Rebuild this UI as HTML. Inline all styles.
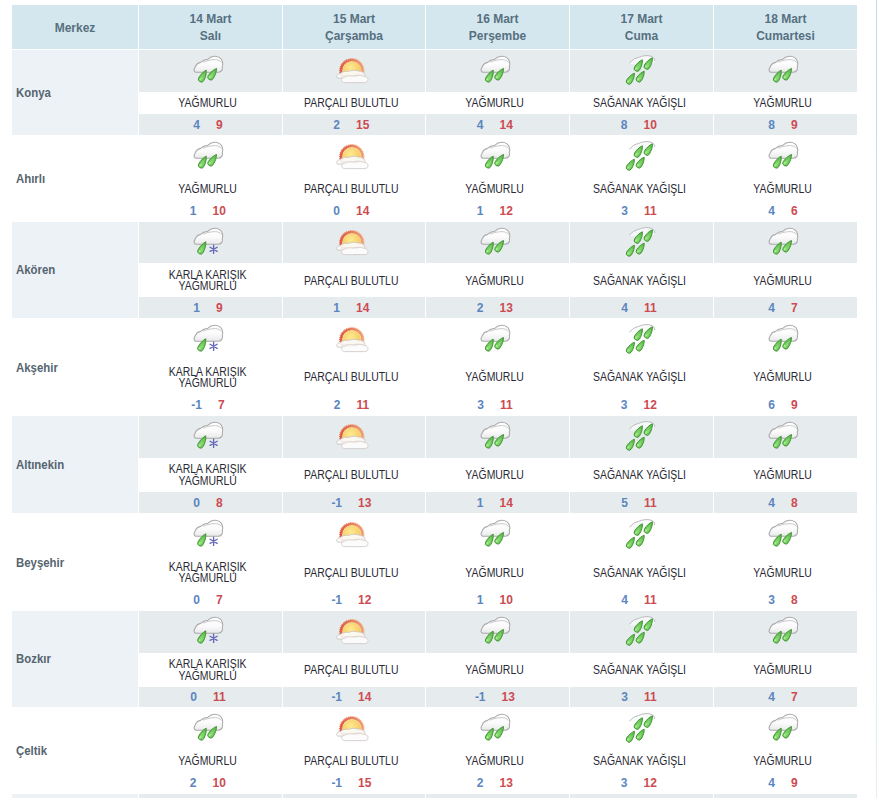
<!DOCTYPE html><html><head><meta charset="utf-8"><style>
html,body{margin:0;padding:0;background:#fff;width:877px;height:798px;overflow:hidden;position:relative;font-family:"Liberation Sans",sans-serif}
.a{position:absolute}
.hd{position:absolute;top:5px;height:44px;background:#d4e7ef;color:#577080;font-weight:bold;font-size:12px;line-height:17px;text-align:center;display:flex;flex-direction:column;justify-content:center;padding-top:2px;box-sizing:border-box}
.city{position:absolute;left:12px;width:126px;color:#56646f;font-weight:bold;font-size:12px;display:flex;align-items:center;padding-left:4px;padding-top:1px;box-sizing:border-box}
.city span{display:inline-block;transform:scaleX(0.95);transform-origin:0 50%}
.ds{position:absolute;color:#2a2a35;font-size:12px;line-height:11.4px;text-align:center;display:flex;align-items:center;justify-content:center}
.ds span{display:inline-block;transform:scaleX(0.87);white-space:nowrap}
.tp{position:absolute;font-weight:bold;font-size:12px;display:flex;align-items:center;justify-content:center}
.mn{color:#5a86bf}.mx{color:#cc4b52;margin-left:16px}
svg.ic{position:absolute;width:40px;height:40px}

</style></head><body>
<svg width="0" height="0" style="position:absolute"><defs><linearGradient id="cg" x1="0" y1="0" x2="0" y2="1"><stop offset="0" stop-color="#ffffff"/><stop offset="0.55" stop-color="#fbfbfb"/><stop offset="1" stop-color="#e9e9ec"/></linearGradient><radialGradient id="dg" cx="0.5" cy="0.7" r="0.7"><stop offset="0" stop-color="#92e07c"/><stop offset="1" stop-color="#4cb03a"/></radialGradient><radialGradient id="sg" cx="0.45" cy="0.35" r="0.7"><stop offset="0" stop-color="#fdeb90"/><stop offset="1" stop-color="#f5bf55"/></radialGradient><linearGradient id="rg" x1="0" y1="0" x2="1" y2="0"><stop offset="0" stop-color="#e05e44"/><stop offset="1" stop-color="#f0a070"/></linearGradient><clipPath id="sc"><rect x="0" y="0" width="40" height="27"/></clipPath></defs><symbol id="ir" viewBox="0 0 40 40"><g transform="matrix(0.955 0 0 1 0.15 0)"><path d="M5 22.2C3 22 2.4 19.6 3.8 17.8C4.8 15 7 13 9.4 12.6C11.6 10.6 14.6 9.4 17.6 9.2C19.6 7.2 22.4 6.2 25 6.3C28.4 6.4 31.4 8.2 32.6 11.2C33.4 13.2 33.2 15 32.6 16.4C33.6 18.6 32 22.2 28.6 22.2Z" fill="url(#cg)" stroke="#a9a9a9" stroke-width="1.1"/><path d="M12.4 12.2C16 10.6 21 9.6 25.4 9.6C28.4 9.8 30.6 10.8 31.8 12.6" fill="none" stroke="#c2c2c2" stroke-width="0.9"/></g><path transform="translate(10.3 29.2) rotate(28.6)" d="M0 -10.25C1.59 -8.20 2.90 -4.10 2.90 0A2.9 2.9 0 0 1 -2.90 0C-2.90 -4.10 -1.59 -8.20 0 -10.25Z" fill="url(#dg)" stroke="#3a8f2c" stroke-width="0.8"/><ellipse transform="translate(10.3 29.2) rotate(28.6)" cx="-0.9" cy="0.6" rx="0.9" ry="1.3" fill="#b8f0a0" opacity="0.8"/><path transform="translate(19.7 27.1) rotate(34.0)" d="M0 -10.37C1.59 -8.30 2.90 -4.15 2.90 0A2.9 2.9 0 0 1 -2.90 0C-2.90 -4.15 -1.59 -8.30 0 -10.37Z" fill="url(#dg)" stroke="#3a8f2c" stroke-width="0.8"/><ellipse transform="translate(19.7 27.1) rotate(34.0)" cx="-0.9" cy="0.6" rx="0.9" ry="1.3" fill="#b8f0a0" opacity="0.8"/></symbol><symbol id="ik" viewBox="0 0 40 40"><g transform="matrix(0.955 0 0 1 0.15 0)"><path d="M5 22.2C3 22 2.4 19.6 3.8 17.8C4.8 15 7 13 9.4 12.6C11.6 10.6 14.6 9.4 17.6 9.2C19.6 7.2 22.4 6.2 25 6.3C28.4 6.4 31.4 8.2 32.6 11.2C33.4 13.2 33.2 15 32.6 16.4C33.6 18.6 32 22.2 28.6 22.2Z" fill="url(#cg)" stroke="#a9a9a9" stroke-width="1.1"/><path d="M12.4 12.2C16 10.6 21 9.6 25.4 9.6C28.4 9.8 30.6 10.8 31.8 12.6" fill="none" stroke="#c2c2c2" stroke-width="0.9"/></g><path transform="translate(9.6 29.2) rotate(29.0)" d="M0 -10.74C1.59 -8.59 2.90 -4.30 2.90 0A2.9 2.9 0 0 1 -2.90 0C-2.90 -4.30 -1.59 -8.59 0 -10.74Z" fill="url(#dg)" stroke="#3a8f2c" stroke-width="0.8"/><ellipse transform="translate(9.6 29.2) rotate(29.0)" cx="-0.9" cy="0.6" rx="0.9" ry="1.3" fill="#b8f0a0" opacity="0.8"/><g stroke="#6468b8" stroke-width="1.35" stroke-linecap="round"><path d="M22.6 23.2V31.4M19.05 25.25L26.15 29.35M19.05 29.35L26.15 25.25"/></g></symbol><symbol id="is" viewBox="0 0 40 40"><path d="M7.6 13.2C9.6 10.2 13 8.2 16.6 7.4C20.4 5.6 25.4 5 29 6.2C31.4 7 32.8 8.8 32.8 11C32.4 12.6 31 13.6 29 13.8L9.4 14.2Z" fill="#f8f9fa" opacity="0.9"/><path d="M7.6 13.2C9.6 10.2 13 8.2 16.6 7.4C20.4 5.6 25.4 5 29 6.2C31.4 7 32.8 8.8 32.8 11" fill="none" stroke="#bcbcbc" stroke-width="1"/><path transform="translate(15.1 18.4) rotate(31.6)" d="M0 -10.10C1.59 -8.08 2.90 -4.04 2.90 0A2.9 2.9 0 0 1 -2.90 0C-2.90 -4.04 -1.59 -8.08 0 -10.10Z" fill="url(#dg)" stroke="#3a8f2c" stroke-width="0.8"/><ellipse transform="translate(15.1 18.4) rotate(31.6)" cx="-0.9" cy="0.6" rx="0.9" ry="1.3" fill="#b8f0a0" opacity="0.8"/><path transform="translate(25 16.4) rotate(32.1)" d="M0 -10.15C1.59 -8.12 2.90 -4.06 2.90 0A2.9 2.9 0 0 1 -2.90 0C-2.90 -4.06 -1.59 -8.12 0 -10.15Z" fill="url(#dg)" stroke="#3a8f2c" stroke-width="0.8"/><ellipse transform="translate(25 16.4) rotate(32.1)" cx="-0.9" cy="0.6" rx="0.9" ry="1.3" fill="#b8f0a0" opacity="0.8"/><path transform="translate(7.1 31.4) rotate(32.9)" d="M0 -9.76C1.54 -7.81 2.80 -3.91 2.80 0A2.8 2.8 0 0 1 -2.80 0C-2.80 -3.91 -1.54 -7.81 0 -9.76Z" fill="url(#dg)" stroke="#3a8f2c" stroke-width="0.8"/><ellipse transform="translate(7.1 31.4) rotate(32.9)" cx="-0.9" cy="0.6" rx="0.9" ry="1.3" fill="#b8f0a0" opacity="0.8"/><path transform="translate(17 29.2) rotate(33.0)" d="M0 -9.54C1.54 -7.63 2.80 -3.82 2.80 0A2.8 2.8 0 0 1 -2.80 0C-2.80 -3.82 -1.54 -7.63 0 -9.54Z" fill="url(#dg)" stroke="#3a8f2c" stroke-width="0.8"/><ellipse transform="translate(17 29.2) rotate(33.0)" cx="-0.9" cy="0.6" rx="0.9" ry="1.3" fill="#b8f0a0" opacity="0.8"/></symbol><symbol id="ip" viewBox="0 0 40 40"><g clip-path="url(#sc)"><circle cx="17.8" cy="20.8" r="10.8" fill="none" stroke="url(#rg)" stroke-width="2.6"/><circle cx="17.8" cy="20.8" r="12.2" fill="none" stroke="url(#rg)" stroke-width="1.1" stroke-dasharray="0.9 1" opacity="0.85"/><circle cx="17.8" cy="20.8" r="9.3" fill="url(#sg)"/></g><path d="M3 27.6C2 26 3.4 23.8 6.2 23.6C8.2 21.6 11.6 20.8 14.6 21.4C17.2 20.2 21.2 20 24.4 21C27.6 21.2 30.2 22.4 30.8 24.4C31 26 30.2 27.4 28.6 27.8L5.2 28.2C4.2 28.2 3.4 28 3 27.6Z" fill="#fbfbfb" fill-opacity="0.92" stroke="#ccc6c2" stroke-width="0.9"/><path d="M8 31.2C6.8 29.8 8 27.6 10.6 27.2C12.6 25.8 16 25.4 19 26C21.8 25 26 25 29 26C32 26.2 34.2 27.6 34 29.6C34 31.6 32.6 32.6 30.4 32.6L10.4 32.6C9.4 32.6 8.6 32 8 31.2Z" fill="#fdfcfc" fill-opacity="0.95" stroke="#d2ccc8" stroke-width="0.9"/><path d="M7 26.2C12 25.4 18 25.6 24 26.4" fill="none" stroke="#e6e0dc" stroke-width="0.8"/></symbol></svg>
<div class="a" style="left:876px;top:0;width:1px;height:798px;background:linear-gradient(#bcdbe7,#e4eef8)"></div>
<div class="hd" style="left:12px;width:126px">Merkez</div>
<div class="hd" style="left:139px;width:143px">14 Mart<br>Salı</div>
<div class="hd" style="left:283px;width:142px">15 Mart<br>Çarşamba</div>
<div class="hd" style="left:426px;width:143px">16 Mart<br>Perşembe</div>
<div class="hd" style="left:570px;width:143px">17 Mart<br>Cuma</div>
<div class="hd" style="left:714px;width:143px">18 Mart<br>Cumartesi</div>
<div class="a" style="left:12px;top:50px;width:126px;height:85px;background:#ecf2f6"></div>
<div class="city" style="top:50.0px;height:84.6px"><span>Konya</span></div>
<div class="a" style="left:139px;top:50px;width:143px;height:42px;background:#e6ebee"></div>
<div class="a" style="left:139px;top:114px;width:143px;height:21px;background:#e6ebee"></div>
<svg class="ic" style="left:190.5px;top:50.0px"><use href="#ir"/></svg>
<div class="ds" style="left:136.5px;top:93.0px;width:143px;height:22.3px"><span>YAĞMURLU</span></div>
<div class="tp" style="left:136.4px;top:114.3px;width:143px;height:21.3px"><span class="mn">4</span><span class="mx">9</span></div>
<div class="a" style="left:283px;top:50px;width:142px;height:42px;background:#e6ebee"></div>
<div class="a" style="left:283px;top:114px;width:142px;height:21px;background:#e6ebee"></div>
<svg class="ic" style="left:334.0px;top:50.0px"><use href="#ip"/></svg>
<div class="ds" style="left:280.5px;top:93.0px;width:142px;height:22.3px"><span>PARÇALI BULUTLU</span></div>
<div class="tp" style="left:280.4px;top:114.3px;width:142px;height:21.3px"><span class="mn">2</span><span class="mx">15</span></div>
<div class="a" style="left:426px;top:50px;width:143px;height:42px;background:#e6ebee"></div>
<div class="a" style="left:426px;top:114px;width:143px;height:21px;background:#e6ebee"></div>
<svg class="ic" style="left:477.5px;top:50.0px"><use href="#ir"/></svg>
<div class="ds" style="left:423.5px;top:93.0px;width:143px;height:22.3px"><span>YAĞMURLU</span></div>
<div class="tp" style="left:423.4px;top:114.3px;width:143px;height:21.3px"><span class="mn">4</span><span class="mx">14</span></div>
<div class="a" style="left:570px;top:50px;width:143px;height:42px;background:#e6ebee"></div>
<div class="a" style="left:570px;top:114px;width:143px;height:21px;background:#e6ebee"></div>
<svg class="ic" style="left:621.5px;top:50.0px"><use href="#is"/></svg>
<div class="ds" style="left:567.5px;top:93.0px;width:143px;height:22.3px"><span>SAĞANAK YAĞIŞLI</span></div>
<div class="tp" style="left:567.4px;top:114.3px;width:143px;height:21.3px"><span class="mn">8</span><span class="mx">10</span></div>
<div class="a" style="left:714px;top:50px;width:143px;height:42px;background:#e6ebee"></div>
<div class="a" style="left:714px;top:114px;width:143px;height:21px;background:#e6ebee"></div>
<svg class="ic" style="left:765.5px;top:50.0px"><use href="#ir"/></svg>
<div class="ds" style="left:711.5px;top:93.0px;width:143px;height:22.3px"><span>YAĞMURLU</span></div>
<div class="tp" style="left:711.4px;top:114.3px;width:143px;height:21.3px"><span class="mn">8</span><span class="mx">9</span></div>
<div class="city" style="top:135.9px;height:84.6px"><span>Ahırlı</span></div>
<svg class="ic" style="left:190.5px;top:135.9px"><use href="#ir"/></svg>
<div class="ds" style="left:136.5px;top:178.9px;width:143px;height:22.3px"><span>YAĞMURLU</span></div>
<div class="tp" style="left:136.4px;top:200.20000000000002px;width:143px;height:21.3px"><span class="mn">1</span><span class="mx">10</span></div>
<svg class="ic" style="left:334.0px;top:135.9px"><use href="#ip"/></svg>
<div class="ds" style="left:280.5px;top:178.9px;width:142px;height:22.3px"><span>PARÇALI BULUTLU</span></div>
<div class="tp" style="left:280.4px;top:200.20000000000002px;width:142px;height:21.3px"><span class="mn">0</span><span class="mx">14</span></div>
<svg class="ic" style="left:477.5px;top:135.9px"><use href="#ir"/></svg>
<div class="ds" style="left:423.5px;top:178.9px;width:143px;height:22.3px"><span>YAĞMURLU</span></div>
<div class="tp" style="left:423.4px;top:200.20000000000002px;width:143px;height:21.3px"><span class="mn">1</span><span class="mx">12</span></div>
<svg class="ic" style="left:621.5px;top:135.9px"><use href="#is"/></svg>
<div class="ds" style="left:567.5px;top:178.9px;width:143px;height:22.3px"><span>SAĞANAK YAĞIŞLI</span></div>
<div class="tp" style="left:567.4px;top:200.20000000000002px;width:143px;height:21.3px"><span class="mn">3</span><span class="mx">11</span></div>
<svg class="ic" style="left:765.5px;top:135.9px"><use href="#ir"/></svg>
<div class="ds" style="left:711.5px;top:178.9px;width:143px;height:22.3px"><span>YAĞMURLU</span></div>
<div class="tp" style="left:711.4px;top:200.20000000000002px;width:143px;height:21.3px"><span class="mn">4</span><span class="mx">6</span></div>
<div class="a" style="left:12px;top:222px;width:126px;height:96px;background:#ecf2f6"></div>
<div class="city" style="top:222.0px;height:95.9px"><span>Akören</span></div>
<div class="a" style="left:139px;top:222px;width:143px;height:41px;background:#e6ebee"></div>
<div class="a" style="left:139px;top:297px;width:143px;height:21px;background:#e6ebee"></div>
<svg class="ic" style="left:190.5px;top:222.0px"><use href="#ik"/></svg>
<div class="ds" style="left:136.5px;top:264.1px;width:143px;height:34.8px"><span>KARLA KARIŞIK<br>YAĞMURLU</span></div>
<div class="tp" style="left:136.4px;top:297.90000000000003px;width:143px;height:21.0px"><span class="mn">1</span><span class="mx">9</span></div>
<div class="a" style="left:283px;top:222px;width:142px;height:41px;background:#e6ebee"></div>
<div class="a" style="left:283px;top:297px;width:142px;height:21px;background:#e6ebee"></div>
<svg class="ic" style="left:334.0px;top:222.0px"><use href="#ip"/></svg>
<div class="ds" style="left:280.5px;top:264.1px;width:142px;height:34.8px"><span>PARÇALI BULUTLU</span></div>
<div class="tp" style="left:280.4px;top:297.90000000000003px;width:142px;height:21.0px"><span class="mn">1</span><span class="mx">14</span></div>
<div class="a" style="left:426px;top:222px;width:143px;height:41px;background:#e6ebee"></div>
<div class="a" style="left:426px;top:297px;width:143px;height:21px;background:#e6ebee"></div>
<svg class="ic" style="left:477.5px;top:222.0px"><use href="#ir"/></svg>
<div class="ds" style="left:423.5px;top:264.1px;width:143px;height:34.8px"><span>YAĞMURLU</span></div>
<div class="tp" style="left:423.4px;top:297.90000000000003px;width:143px;height:21.0px"><span class="mn">2</span><span class="mx">13</span></div>
<div class="a" style="left:570px;top:222px;width:143px;height:41px;background:#e6ebee"></div>
<div class="a" style="left:570px;top:297px;width:143px;height:21px;background:#e6ebee"></div>
<svg class="ic" style="left:621.5px;top:222.0px"><use href="#is"/></svg>
<div class="ds" style="left:567.5px;top:264.1px;width:143px;height:34.8px"><span>SAĞANAK YAĞIŞLI</span></div>
<div class="tp" style="left:567.4px;top:297.90000000000003px;width:143px;height:21.0px"><span class="mn">4</span><span class="mx">11</span></div>
<div class="a" style="left:714px;top:222px;width:143px;height:41px;background:#e6ebee"></div>
<div class="a" style="left:714px;top:297px;width:143px;height:21px;background:#e6ebee"></div>
<svg class="ic" style="left:765.5px;top:222.0px"><use href="#ir"/></svg>
<div class="ds" style="left:711.5px;top:264.1px;width:143px;height:34.8px"><span>YAĞMURLU</span></div>
<div class="tp" style="left:711.4px;top:297.90000000000003px;width:143px;height:21.0px"><span class="mn">4</span><span class="mx">7</span></div>
<div class="city" style="top:319.0px;height:96.4px"><span>Akşehir</span></div>
<svg class="ic" style="left:190.5px;top:319.0px"><use href="#ik"/></svg>
<div class="ds" style="left:136.5px;top:360.6px;width:143px;height:34.8px"><span>KARLA KARIŞIK<br>YAĞMURLU</span></div>
<div class="tp" style="left:136.4px;top:394.40000000000003px;width:143px;height:21.0px"><span class="mn">-1</span><span class="mx">7</span></div>
<svg class="ic" style="left:334.0px;top:319.0px"><use href="#ip"/></svg>
<div class="ds" style="left:280.5px;top:360.6px;width:142px;height:34.8px"><span>PARÇALI BULUTLU</span></div>
<div class="tp" style="left:280.4px;top:394.40000000000003px;width:142px;height:21.0px"><span class="mn">2</span><span class="mx">11</span></div>
<svg class="ic" style="left:477.5px;top:319.0px"><use href="#ir"/></svg>
<div class="ds" style="left:423.5px;top:360.6px;width:143px;height:34.8px"><span>YAĞMURLU</span></div>
<div class="tp" style="left:423.4px;top:394.40000000000003px;width:143px;height:21.0px"><span class="mn">3</span><span class="mx">11</span></div>
<svg class="ic" style="left:621.5px;top:319.0px"><use href="#is"/></svg>
<div class="ds" style="left:567.5px;top:360.6px;width:143px;height:34.8px"><span>SAĞANAK YAĞIŞLI</span></div>
<div class="tp" style="left:567.4px;top:394.40000000000003px;width:143px;height:21.0px"><span class="mn">3</span><span class="mx">12</span></div>
<svg class="ic" style="left:765.5px;top:319.0px"><use href="#ir"/></svg>
<div class="ds" style="left:711.5px;top:360.6px;width:143px;height:34.8px"><span>YAĞMURLU</span></div>
<div class="tp" style="left:711.4px;top:394.40000000000003px;width:143px;height:21.0px"><span class="mn">6</span><span class="mx">9</span></div>
<div class="a" style="left:12px;top:416px;width:126px;height:97px;background:#ecf2f6"></div>
<div class="city" style="top:416.0px;height:96.3px"><span>Altınekin</span></div>
<div class="a" style="left:139px;top:416px;width:143px;height:42px;background:#e6ebee"></div>
<div class="a" style="left:139px;top:492px;width:143px;height:21px;background:#e6ebee"></div>
<svg class="ic" style="left:190.5px;top:416.0px"><use href="#ik"/></svg>
<div class="ds" style="left:136.5px;top:459.0px;width:143px;height:33.6px"><span>KARLA KARIŞIK<br>YAĞMURLU</span></div>
<div class="tp" style="left:136.4px;top:492.6px;width:143px;height:20.7px"><span class="mn">0</span><span class="mx">8</span></div>
<div class="a" style="left:283px;top:416px;width:142px;height:42px;background:#e6ebee"></div>
<div class="a" style="left:283px;top:492px;width:142px;height:21px;background:#e6ebee"></div>
<svg class="ic" style="left:334.0px;top:416.0px"><use href="#ip"/></svg>
<div class="ds" style="left:280.5px;top:459.0px;width:142px;height:33.6px"><span>PARÇALI BULUTLU</span></div>
<div class="tp" style="left:280.4px;top:492.6px;width:142px;height:20.7px"><span class="mn">-1</span><span class="mx">13</span></div>
<div class="a" style="left:426px;top:416px;width:143px;height:42px;background:#e6ebee"></div>
<div class="a" style="left:426px;top:492px;width:143px;height:21px;background:#e6ebee"></div>
<svg class="ic" style="left:477.5px;top:416.0px"><use href="#ir"/></svg>
<div class="ds" style="left:423.5px;top:459.0px;width:143px;height:33.6px"><span>YAĞMURLU</span></div>
<div class="tp" style="left:423.4px;top:492.6px;width:143px;height:20.7px"><span class="mn">1</span><span class="mx">14</span></div>
<div class="a" style="left:570px;top:416px;width:143px;height:42px;background:#e6ebee"></div>
<div class="a" style="left:570px;top:492px;width:143px;height:21px;background:#e6ebee"></div>
<svg class="ic" style="left:621.5px;top:416.0px"><use href="#is"/></svg>
<div class="ds" style="left:567.5px;top:459.0px;width:143px;height:33.6px"><span>SAĞANAK YAĞIŞLI</span></div>
<div class="tp" style="left:567.4px;top:492.6px;width:143px;height:20.7px"><span class="mn">5</span><span class="mx">11</span></div>
<div class="a" style="left:714px;top:416px;width:143px;height:42px;background:#e6ebee"></div>
<div class="a" style="left:714px;top:492px;width:143px;height:21px;background:#e6ebee"></div>
<svg class="ic" style="left:765.5px;top:416.0px"><use href="#ir"/></svg>
<div class="ds" style="left:711.5px;top:459.0px;width:143px;height:33.6px"><span>YAĞMURLU</span></div>
<div class="tp" style="left:711.4px;top:492.6px;width:143px;height:20.7px"><span class="mn">4</span><span class="mx">8</span></div>
<div class="city" style="top:514.0px;height:96.5px"><span>Beyşehir</span></div>
<svg class="ic" style="left:190.5px;top:514.0px"><use href="#ik"/></svg>
<div class="ds" style="left:136.5px;top:556.0px;width:143px;height:34.5px"><span>KARLA KARIŞIK<br>YAĞMURLU</span></div>
<div class="tp" style="left:136.4px;top:589.5px;width:143px;height:21.0px"><span class="mn">0</span><span class="mx">7</span></div>
<svg class="ic" style="left:334.0px;top:514.0px"><use href="#ip"/></svg>
<div class="ds" style="left:280.5px;top:556.0px;width:142px;height:34.5px"><span>PARÇALI BULUTLU</span></div>
<div class="tp" style="left:280.4px;top:589.5px;width:142px;height:21.0px"><span class="mn">-1</span><span class="mx">12</span></div>
<svg class="ic" style="left:477.5px;top:514.0px"><use href="#ir"/></svg>
<div class="ds" style="left:423.5px;top:556.0px;width:143px;height:34.5px"><span>YAĞMURLU</span></div>
<div class="tp" style="left:423.4px;top:589.5px;width:143px;height:21.0px"><span class="mn">1</span><span class="mx">10</span></div>
<svg class="ic" style="left:621.5px;top:514.0px"><use href="#is"/></svg>
<div class="ds" style="left:567.5px;top:556.0px;width:143px;height:34.5px"><span>SAĞANAK YAĞIŞLI</span></div>
<div class="tp" style="left:567.4px;top:589.5px;width:143px;height:21.0px"><span class="mn">4</span><span class="mx">11</span></div>
<svg class="ic" style="left:765.5px;top:514.0px"><use href="#ir"/></svg>
<div class="ds" style="left:711.5px;top:556.0px;width:143px;height:34.5px"><span>YAĞMURLU</span></div>
<div class="tp" style="left:711.4px;top:589.5px;width:143px;height:21.0px"><span class="mn">3</span><span class="mx">8</span></div>
<div class="a" style="left:12px;top:611px;width:126px;height:96px;background:#ecf2f6"></div>
<div class="city" style="top:610.5px;height:95.5px"><span>Bozkır</span></div>
<div class="a" style="left:139px;top:611px;width:143px;height:42px;background:#e6ebee"></div>
<div class="a" style="left:139px;top:687px;width:143px;height:20px;background:#e6ebee"></div>
<svg class="ic" style="left:190.5px;top:610.5px"><use href="#ik"/></svg>
<div class="ds" style="left:136.5px;top:653.6px;width:143px;height:34.1px"><span>KARLA KARIŞIK<br>YAĞMURLU</span></div>
<div class="tp" style="left:136.4px;top:687.7px;width:143px;height:19.3px"><span class="mn">0</span><span class="mx">11</span></div>
<div class="a" style="left:283px;top:611px;width:142px;height:42px;background:#e6ebee"></div>
<div class="a" style="left:283px;top:687px;width:142px;height:20px;background:#e6ebee"></div>
<svg class="ic" style="left:334.0px;top:610.5px"><use href="#ip"/></svg>
<div class="ds" style="left:280.5px;top:653.6px;width:142px;height:34.1px"><span>PARÇALI BULUTLU</span></div>
<div class="tp" style="left:280.4px;top:687.7px;width:142px;height:19.3px"><span class="mn">-1</span><span class="mx">14</span></div>
<div class="a" style="left:426px;top:611px;width:143px;height:42px;background:#e6ebee"></div>
<div class="a" style="left:426px;top:687px;width:143px;height:20px;background:#e6ebee"></div>
<svg class="ic" style="left:477.5px;top:610.5px"><use href="#ir"/></svg>
<div class="ds" style="left:423.5px;top:653.6px;width:143px;height:34.1px"><span>YAĞMURLU</span></div>
<div class="tp" style="left:423.4px;top:687.7px;width:143px;height:19.3px"><span class="mn">-1</span><span class="mx">13</span></div>
<div class="a" style="left:570px;top:611px;width:143px;height:42px;background:#e6ebee"></div>
<div class="a" style="left:570px;top:687px;width:143px;height:20px;background:#e6ebee"></div>
<svg class="ic" style="left:621.5px;top:610.5px"><use href="#is"/></svg>
<div class="ds" style="left:567.5px;top:653.6px;width:143px;height:34.1px"><span>SAĞANAK YAĞIŞLI</span></div>
<div class="tp" style="left:567.4px;top:687.7px;width:143px;height:19.3px"><span class="mn">3</span><span class="mx">11</span></div>
<div class="a" style="left:714px;top:611px;width:143px;height:42px;background:#e6ebee"></div>
<div class="a" style="left:714px;top:687px;width:143px;height:20px;background:#e6ebee"></div>
<svg class="ic" style="left:765.5px;top:610.5px"><use href="#ir"/></svg>
<div class="ds" style="left:711.5px;top:653.6px;width:143px;height:34.1px"><span>YAĞMURLU</span></div>
<div class="tp" style="left:711.4px;top:687.7px;width:143px;height:19.3px"><span class="mn">4</span><span class="mx">7</span></div>
<div class="city" style="top:707.8px;height:84.6px"><span>Çeltik</span></div>
<svg class="ic" style="left:190.5px;top:707.8px"><use href="#ir"/></svg>
<div class="ds" style="left:136.5px;top:750.8px;width:143px;height:22.3px"><span>YAĞMURLU</span></div>
<div class="tp" style="left:136.4px;top:772.0999999999999px;width:143px;height:21.3px"><span class="mn">2</span><span class="mx">10</span></div>
<svg class="ic" style="left:334.0px;top:707.8px"><use href="#ip"/></svg>
<div class="ds" style="left:280.5px;top:750.8px;width:142px;height:22.3px"><span>PARÇALI BULUTLU</span></div>
<div class="tp" style="left:280.4px;top:772.0999999999999px;width:142px;height:21.3px"><span class="mn">-1</span><span class="mx">15</span></div>
<svg class="ic" style="left:477.5px;top:707.8px"><use href="#ir"/></svg>
<div class="ds" style="left:423.5px;top:750.8px;width:143px;height:22.3px"><span>YAĞMURLU</span></div>
<div class="tp" style="left:423.4px;top:772.0999999999999px;width:143px;height:21.3px"><span class="mn">2</span><span class="mx">13</span></div>
<svg class="ic" style="left:621.5px;top:707.8px"><use href="#is"/></svg>
<div class="ds" style="left:567.5px;top:750.8px;width:143px;height:22.3px"><span>SAĞANAK YAĞIŞLI</span></div>
<div class="tp" style="left:567.4px;top:772.0999999999999px;width:143px;height:21.3px"><span class="mn">3</span><span class="mx">12</span></div>
<svg class="ic" style="left:765.5px;top:707.8px"><use href="#ir"/></svg>
<div class="ds" style="left:711.5px;top:750.8px;width:143px;height:22.3px"><span>YAĞMURLU</span></div>
<div class="tp" style="left:711.4px;top:772.0999999999999px;width:143px;height:21.3px"><span class="mn">4</span><span class="mx">9</span></div>
<div class="a" style="left:12px;top:794px;width:126px;height:85px;background:#ecf2f6"></div>
<div class="city" style="top:794.2px;height:84.6px"><span></span></div>
<div class="a" style="left:139px;top:794px;width:143px;height:42px;background:#e6ebee"></div>
<div class="a" style="left:139px;top:858px;width:143px;height:21px;background:#e6ebee"></div>
<div class="a" style="left:283px;top:794px;width:142px;height:42px;background:#e6ebee"></div>
<div class="a" style="left:283px;top:858px;width:142px;height:21px;background:#e6ebee"></div>
<div class="a" style="left:426px;top:794px;width:143px;height:42px;background:#e6ebee"></div>
<div class="a" style="left:426px;top:858px;width:143px;height:21px;background:#e6ebee"></div>
<div class="a" style="left:570px;top:794px;width:143px;height:42px;background:#e6ebee"></div>
<div class="a" style="left:570px;top:858px;width:143px;height:21px;background:#e6ebee"></div>
<div class="a" style="left:714px;top:794px;width:143px;height:42px;background:#e6ebee"></div>
<div class="a" style="left:714px;top:858px;width:143px;height:21px;background:#e6ebee"></div>
</body></html>
